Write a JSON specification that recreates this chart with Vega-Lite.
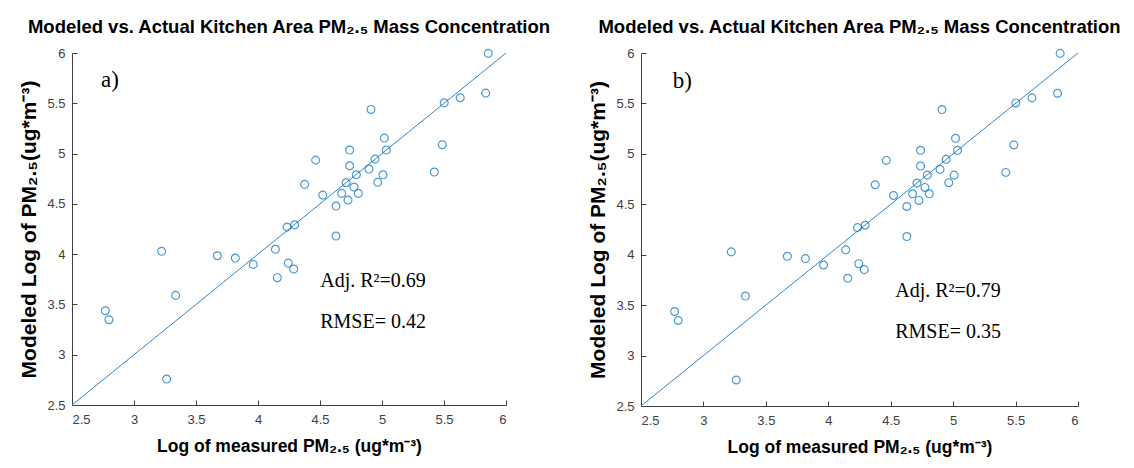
{
  "$schema": "https://vega.github.io/schema/vega-lite/v6.json",
  "background": "white",
  "padding": {"left": 18, "top": 17, "right": 5, "bottom": 5},
  "spacing": 135,
  "bounds": "flush",
  "datasets": {
    "pts": [
      {"x": 2.769, "y": 3.437}, {"x": 2.798, "y": 3.348}, {"x": 3.223, "y": 4.028},
      {"x": 3.336, "y": 3.59}, {"x": 3.263, "y": 2.758}, {"x": 3.672, "y": 3.984},
      {"x": 3.817, "y": 3.961}, {"x": 3.962, "y": 3.898}, {"x": 4.14, "y": 4.048},
      {"x": 4.156, "y": 3.766}, {"x": 4.244, "y": 3.911}, {"x": 4.288, "y": 3.852},
      {"x": 4.234, "y": 4.269}, {"x": 4.296, "y": 4.292}, {"x": 4.376, "y": 4.694},
      {"x": 4.465, "y": 4.935}, {"x": 4.522, "y": 4.587}, {"x": 4.629, "y": 4.478},
      {"x": 4.629, "y": 4.18}, {"x": 4.675, "y": 4.604}, {"x": 4.71, "y": 4.71},
      {"x": 4.726, "y": 4.538}, {"x": 4.739, "y": 5.035}, {"x": 4.739, "y": 4.879},
      {"x": 4.774, "y": 4.667}, {"x": 4.793, "y": 4.789}, {"x": 4.809, "y": 4.604},
      {"x": 4.895, "y": 4.846}, {"x": 4.911, "y": 5.439}, {"x": 4.944, "y": 4.945},
      {"x": 4.965, "y": 4.714}, {"x": 5.008, "y": 4.789}, {"x": 5.019, "y": 5.154},
      {"x": 5.035, "y": 5.035}, {"x": 5.422, "y": 4.816}, {"x": 5.486, "y": 5.088},
      {"x": 5.502, "y": 5.505}, {"x": 5.631, "y": 5.555}, {"x": 5.836, "y": 5.601},
      {"x": 5.857, "y": 5.996}
    ],
    "fit": [{"x": 2.5, "y": 2.5}, {"x": 6, "y": 6}],
    "lab_a": [{"x": 2.734, "y": 5.73, "t": "a)"}],
    "stat_a": [{"x": 4.502, "y": 3.736, "t": "Adj. R²=0.69"}, {"x": 4.502, "y": 3.328, "t": "RMSE= 0.42"}],
    "lab_b": [{"x": 2.754, "y": 5.72, "t": "b)"}],
    "stat_b": [{"x": 4.536, "y": 3.639, "t": "Adj. R²=0.79"}, {"x": 4.536, "y": 3.233, "t": "RMSE= 0.35"}]
  },
  "config": {
    "view": {"stroke": null},
    "axis": {
      "grid": false,
      "domainColor": "#404040",
      "tickColor": "#404040",
      "tickSize": -5,
      "labelColor": "#404040",
      "labelFont": "Liberation Sans",
      "labelFontSize": 13,
      "labelPadding": 12,
      "titleFont": "Liberation Sans",
      "titleFontWeight": "bold",
      "titleColor": "#000000"
    },
    "axisX": {"labelPadding": 13, "titlePadding": 11, "titleFontSize": 17.5},
    "axisY": {"titlePadding": 7, "titleFontSize": 21},
    "title": {"font": "Liberation Sans", "fontWeight": "bold", "fontSize": 18.5, "color": "#000000", "anchor": "middle", "offset": 11}
  },
  "hconcat": [
    {
      "width": 434, "height": 352,
      "title": "Modeled vs. Actual Kitchen Area PM₂.₅ Mass Concentration",
      "layer": [
        {"data": {"name": "fit"}, "mark": {"type": "line", "color": "#2f86cc", "strokeWidth": 1},
         "encoding": {
           "x": {"field": "x", "type": "quantitative", "scale": {"domain": [2.5, 6], "nice": false, "zero": false},
                 "axis": {"values": [2.5, 3, 3.5, 4, 4.5, 5, 5.5, 6], "format": "~g", "title": "Log of measured PM₂.₅ (ug*m⁻³)"}},
           "y": {"field": "y", "type": "quantitative", "scale": {"domain": [2.5, 6], "nice": false, "zero": false},
                 "axis": {"values": [2.5, 3, 3.5, 4, 4.5, 5, 5.5, 6], "format": "~g", "title": "Modeled Log of PM₂.₅(ug*m⁻³)"}}
         }},
        {"data": {"name": "pts"}, "mark": {"type": "point", "shape": "circle", "filled": false, "color": "#0072BD", "size": 62, "strokeWidth": 1.2},
         "encoding": {"x": {"field": "x", "type": "quantitative"}, "y": {"field": "y", "type": "quantitative"}}},
        {"data": {"name": "lab_a"}, "mark": {"type": "text", "align": "left", "baseline": "middle", "font": "Liberation Serif", "fontSize": 23, "color": "#000"},
         "encoding": {"x": {"field": "x", "type": "quantitative"}, "y": {"field": "y", "type": "quantitative"}, "text": {"field": "t"}}},
        {"data": {"name": "stat_a"}, "mark": {"type": "text", "align": "left", "baseline": "middle", "font": "Liberation Serif", "fontSize": 20, "color": "#000"},
         "encoding": {"x": {"field": "x", "type": "quantitative"}, "y": {"field": "y", "type": "quantitative"}, "text": {"field": "t"}}}
      ]
    },
    {
      "width": 437, "height": 353,
      "title": "Modeled vs. Actual Kitchen Area PM₂.₅ Mass Concentration",
      "layer": [
        {"data": {"name": "fit"}, "mark": {"type": "line", "color": "#2f86cc", "strokeWidth": 1},
         "encoding": {
           "x": {"field": "x", "type": "quantitative", "scale": {"domain": [2.5, 6], "nice": false, "zero": false},
                 "axis": {"values": [2.5, 3, 3.5, 4, 4.5, 5, 5.5, 6], "format": "~g", "title": "Log of measured PM₂.₅ (ug*m⁻³)"}},
           "y": {"field": "y", "type": "quantitative", "scale": {"domain": [2.5, 6], "nice": false, "zero": false},
                 "axis": {"values": [2.5, 3, 3.5, 4, 4.5, 5, 5.5, 6], "format": "~g", "title": "Modeled Log of PM₂.₅(ug*m⁻³)"}}
         }},
        {"data": {"name": "pts"}, "mark": {"type": "point", "shape": "circle", "filled": false, "color": "#0072BD", "size": 62, "strokeWidth": 1.2},
         "encoding": {"x": {"field": "x", "type": "quantitative"}, "y": {"field": "y", "type": "quantitative"}}},
        {"data": {"name": "lab_b"}, "mark": {"type": "text", "align": "left", "baseline": "middle", "font": "Liberation Serif", "fontSize": 23, "color": "#000"},
         "encoding": {"x": {"field": "x", "type": "quantitative"}, "y": {"field": "y", "type": "quantitative"}, "text": {"field": "t"}}},
        {"data": {"name": "stat_b"}, "mark": {"type": "text", "align": "left", "baseline": "middle", "font": "Liberation Serif", "fontSize": 20, "color": "#000"},
         "encoding": {"x": {"field": "x", "type": "quantitative"}, "y": {"field": "y", "type": "quantitative"}, "text": {"field": "t"}}}
      ]
    }
  ]
}
